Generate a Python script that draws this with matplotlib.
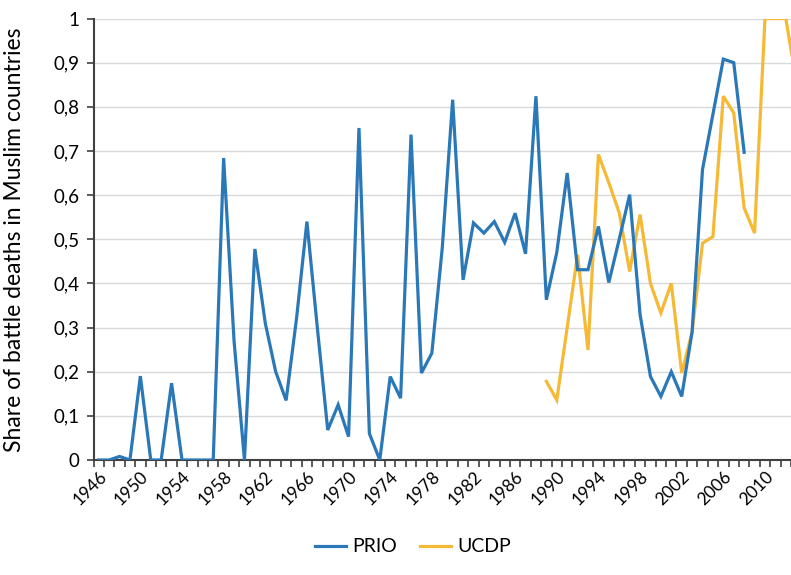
import matplotlib
matplotlib.use("Agg")
import matplotlib.pyplot as plt
import numpy as np

plt.rcParams['font.family'] = ['Lato', 'DejaVu Sans']

prio_years = list(range(1946, 2009))
prio_values = [0, 0, 0.008, 0, 0.19, 0, 0, 0.174, 0, 0, 0, 0,
               0.684, 0.27, 0, 0.478, 0.31, 0.20, 0.135, 0.32, 0.54,
               0.30, 0.068, 0.125, 0.053, 0.752, 0.06, 0, 0.189, 0.14,
               0.737, 0.197, 0.242, 0.48, 0.816, 0.408, 0.537, 0.514,
               0.54, 0.493, 0.559, 0.467, 0.824, 0.363, 0.47, 0.65,
               0.431, 0.431, 0.529, 0.402, 0.50, 0.601, 0.33, 0.189,
               0.144, 0.20, 0.144, 0.29, 0.658, 0.783, 0.908, 0.90, 0.697]
ucdp_years = list(range(1989, 2014))
ucdp_values = [0.178, 0.136, 0.30, 0.465, 0.249, 0.692, 0.628, 0.56,
               0.427, 0.556, 0.40, 0.333, 0.40, 0.197, 0.29, 0.491,
               0.506, 0.824, 0.786, 0.571, 0.514, 1.0, 1.0, 1.0, 0.86]
label_years = list(range(1946, 2011, 4))
y_ticks = [0, 0.1, 0.2, 0.3, 0.4, 0.5, 0.6, 0.7, 0.8, 0.9, 1.0]
y_tick_labels = ['0', '0,1', '0,2', '0,3', '0,4', '0,5', '0,6', '0,7', '0,8', '0,9', '1']

fig = plt.figure(figsize=(7.91, 5.75), dpi=100)
ax_left = 93.5
ax = fig.add_axes([ax_left/791, 1-460/575, 1-ax_left/791, (460-18.5)/575])

blue = '#2a78b8'
gold = '#f5b936'
ax.plot(prio_years, prio_values, color=blue, lw=2.3, label='PRIO', zorder=3, solid_joinstyle='miter')
ax.plot(ucdp_years, ucdp_values, color=gold, lw=2.3, label='UCDP', zorder=2, solid_joinstyle='miter')

ax.set_xlim(1945.5, 2012.5)
ax.set_ylim(0, 1)
ax.set_yticks(y_ticks)
ax.set_yticklabels(y_tick_labels, fontsize=13.5)
ax.yaxis.grid(True, color='#d9d9d9', lw=1)
ax.set_axisbelow(True)

ax.set_xticks(label_years)
ax.set_xticklabels([str(y) for y in label_years], rotation=45, ha='right',
                   rotation_mode='anchor', fontsize=12.5)
ax.set_xticks(np.arange(1945.5, 2013, 1.0), minor=True)
ax.tick_params(axis='x', which='major', length=0, pad=6)
ax.tick_params(axis='x', which='minor', length=5, width=1.2, color='#404040', direction='out')
ax.tick_params(axis='y', length=5, width=1.2, color='#404040', pad=5)

for s in ['top', 'right']:
    ax.spines[s].set_visible(False)
for s in ['left', 'bottom']:
    ax.spines[s].set_color('#404040')
    ax.spines[s].set_linewidth(1.5)

ax.set_ylabel('Share of battle deaths in Muslim countries', fontsize=16.5)
ax.yaxis.set_label_coords((25 - ax_left)/(791 - ax_left), 0.5)

fig.legend(loc='center', bbox_to_anchor=(413/791, 1-547/575), ncol=2, frameon=False,
           fontsize=14, handlelength=1.6, handletextpad=0.3, columnspacing=1.2)

fig.savefig('out.png', dpi=100)
